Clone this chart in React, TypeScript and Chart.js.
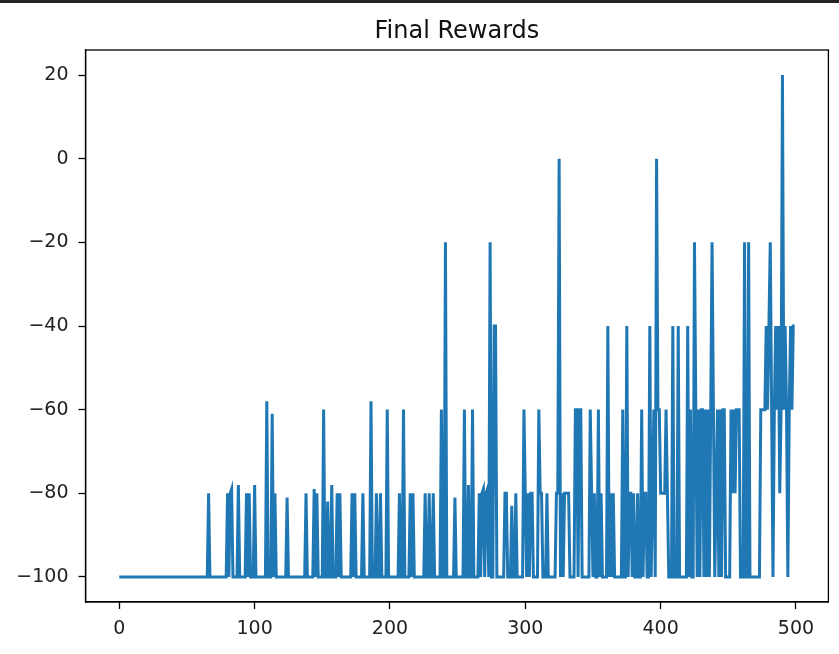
import React, { useEffect, useRef } from "react";
import { Chart, registerables } from "chart.js";

Chart.register(...registerables);

const chartTitle = "Final Rewards";

// Final reward per episode (episodes 0–99)
const rewardsEp000 = [
  -100, -100, -100, -100, -100, -100, -100, -100, -100, -100, -100, -100, -100, -100, -100, -100, -100, -100, -100, -100, -100, -100, -100, -100, -100,
  -100, -100, -100, -100, -100, -100, -100, -100, -100, -100, -100, -100, -100, -100, -100, -100, -100, -100, -100, -100, -100, -100, -100, -100, -100,
  -100, -100, -100, -100, -100, -100, -100, -100, -100, -100, -100, -100, -100, -100, -100, -100, -80, -100, -100, -100, -100, -100, -100, -100, -100,
  -100, -100, -100, -100, -100, -80, -100, -80, -79, -100, -100, -100, -100, -78, -100, -100, -100, -100, -100, -80, -100, -80, -100, -100, -100,
];
// episodes 100–199
const rewardsEp100 = [
  -78, -100, -100, -100, -100, -100, -100, -100, -100, -58, -100, -100, -100, -61, -100, -80, -100, -100, -100, -100, -100, -100, -100, -100, -81,
  -100, -100, -100, -100, -100, -100, -100, -100, -100, -100, -100, -100, -100, -80, -100, -100, -100, -100, -100, -79, -100, -80, -100, -100, -100,
  -100, -60, -100, -100, -82, -100, -100, -78, -100, -100, -100, -80, -100, -80, -100, -100, -100, -100, -100, -100, -100, -100, -80, -100, -80,
  -100, -100, -100, -100, -100, -80, -100, -100, -100, -100, -100, -58, -100, -100, -100, -80, -100, -100, -80, -100, -100, -100, -100, -60, -100,
];
// episodes 200–299
const rewardsEp200 = [
  -100, -100, -100, -100, -100, -100, -100, -80, -100, -100, -60, -100, -100, -100, -100, -80, -100, -80, -100, -100, -100, -100, -100, -100, -100,
  -100, -80, -100, -100, -80, -100, -100, -80, -100, -100, -100, -100, -100, -60, -100, -100, -20, -100, -100, -100, -100, -100, -100, -81, -100,
  -100, -100, -100, -100, -100, -60, -100, -100, -78, -100, -100, -60, -100, -100, -100, -100, -80, -100, -80, -79, -100, -80, -79, -100, -20,
  -100, -100, -40, -40, -100, -100, -100, -100, -100, -100, -80, -80, -100, -100, -100, -83, -100, -100, -80, -100, -100, -100, -100, -100, -60,
];
// episodes 300–399
const rewardsEp300 = [
  -80, -100, -80, -100, -80, -80, -100, -100, -100, -100, -60, -80, -80, -100, -100, -100, -80, -100, -100, -100, -100, -100, -100, -80, -80,
  0, -100, -80, -100, -80, -80, -80, -80, -100, -100, -100, -100, -60, -60, -100, -60, -60, -100, -100, -100, -100, -100, -100, -60, -80,
  -100, -80, -100, -100, -60, -100, -80, -100, -100, -100, -100, -40, -100, -80, -100, -80, -100, -100, -100, -100, -100, -100, -60, -100, -100,
  -40, -100, -80, -80, -100, -80, -100, -100, -80, -100, -100, -60, -100, -80, -80, -100, -100, -40, -100, -80, -60, -100, 0, -60, -60,
];
// episodes 400–499
const rewardsEp400 = [
  -80, -80, -80, -80, -60, -80, -100, -100, -100, -40, -100, -100, -100, -40, -100, -100, -100, -100, -100, -100, -40, -100, -60, -100, -100,
  -20, -60, -100, -60, -100, -60, -60, -100, -60, -100, -60, -100, -60, -20, -60, -100, -80, -60, -100, -60, -100, -60, -60, -100, -100,
  -100, -100, -60, -80, -60, -80, -60, -60, -60, -100, -100, -100, -20, -100, -100, -20, -100, -100, -100, -100, -100, -100, -100, -100, -60,
  -60, -60, -60, -40, -60, -40, -20, -60, -100, -60, -40, -60, -40, -80, -60, 20, -60, -40, -60, -100, -60, -40, -60, -40, -40,
];

const xTickValues = [0, 100, 200, 300, 400, 500];
const yTickValues = [-100, -80, -60, -40, -20, 0, 20];

const W = 839;
const H = 654;
const PLOT_LEFT = 85.5;
const PLOT_RIGHT = 828.4;
const PLOT_TOP = 50;
const PLOT_BOTTOM = 602;
const FONT = '"DejaVu Sans", sans-serif';

export default function App() {
  const canvasRef = useRef<HTMLCanvasElement | null>(null);

  useEffect(() => {
    const canvas = canvasRef.current;
    if (!canvas) return;
    const rewards = [
      ...rewardsEp000,
      ...rewardsEp100,
      ...rewardsEp200,
      ...rewardsEp300,
      ...rewardsEp400,
    ];
    const points = rewards.map((r, i) => ({ x: i, y: r }));

    const framePlugin = {
      id: "frameAndTitle",
      afterDraw(chart: any) {
        const { ctx, chartArea } = chart;
        ctx.save();
        ctx.strokeStyle = "#000";
        ctx.lineWidth = 1.3;
        ctx.strokeRect(
          chartArea.left,
          chartArea.top,
          chartArea.right - chartArea.left,
          chartArea.bottom - chartArea.top
        );
        ctx.fillStyle = "#111";
        ctx.font = `24px ${FONT}`;
        ctx.textAlign = "center";
        ctx.textBaseline = "alphabetic";
        ctx.fillText(chartTitle, (chartArea.left + chartArea.right) / 2, 38);
        ctx.restore();
      },
    };

    const chart = new Chart(canvas, {
      type: "line",
      data: {
        datasets: [
          {
            data: points,
            borderColor: "#1f77b4",
            borderWidth: 3,
            pointRadius: 0,
            tension: 0,
            fill: false,
          },
        ],
      },
      options: {
        animation: false,
        responsive: false,
        devicePixelRatio: 1,
        parsing: false,
        normalized: true,
        layout: {
          padding: { left: 0, top: PLOT_TOP, right: W - PLOT_RIGHT, bottom: 0 },
        },
        plugins: {
          legend: { display: false },
          title: { display: false },
          tooltip: { enabled: false },
        },
        scales: {
          x: {
            type: "linear",
            min: -24.95,
            max: 523.95,
            afterBuildTicks(scale: any) {
              scale.ticks = xTickValues.map((v) => ({ value: v }));
            },
            afterFit(scale: any) {
              scale.height = H - PLOT_BOTTOM;
            },
            grid: {
              display: true,
              drawOnChartArea: false,
              drawTicks: true,
              tickLength: 7,
              tickWidth: 1.3,
              tickColor: "#000",
            },
            border: { display: true, color: "#000", width: 1.3 },
            ticks: {
              color: "#222",
              font: { family: FONT, size: 19 },
              padding: 9,
              maxRotation: 0,
              autoSkip: false,
              callback: (v: any) => String(v),
            },
          },
          y: {
            type: "linear",
            min: -106,
            max: 26,
            afterBuildTicks(scale: any) {
              scale.ticks = yTickValues.map((v) => ({ value: v }));
            },
            afterFit(scale: any) {
              scale.width = PLOT_LEFT;
            },
            grid: {
              display: true,
              drawOnChartArea: false,
              drawTicks: true,
              tickLength: 7,
              tickWidth: 1.3,
              tickColor: "#000",
            },
            border: { display: true, color: "#000", width: 1.3 },
            ticks: {
              color: "#222",
              font: { family: FONT, size: 19 },
              padding: 10,
              autoSkip: false,
              callback: (v: any) => (Number(v) < 0 ? "\u2212" + Math.abs(Number(v)) : String(v)),
            },
          },
        },
      },
      plugins: [framePlugin],
    });

    return () => chart.destroy();
  }, []);

  return (
    <div
      style={{
        position: "absolute",
        left: 0,
        top: 0,
        width: W,
        height: H,
        background: "#fff",
        overflow: "hidden",
      }}
    >
      <div
        style={{
          position: "absolute",
          left: 0,
          top: 0,
          width: W,
          height: 3,
          background: "#242424",
          zIndex: 2,
        }}
      />
      <canvas ref={canvasRef} width={W} height={H} style={{ display: "block", width: W, height: H }} />
    </div>
  );
}
